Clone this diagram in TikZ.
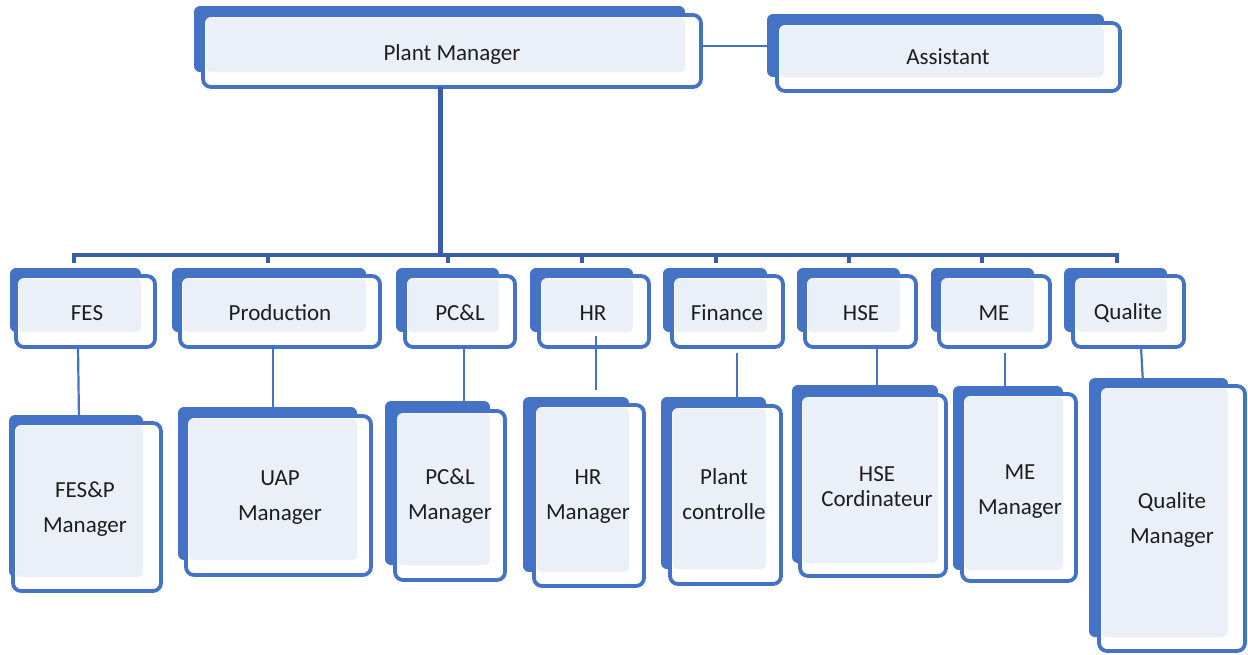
\documentclass[tikz,border=0pt]{standalone}
\usepackage{fontspec}
\setmainfont{Carlito}
\usetikzlibrary{fit}

\definecolor{boxblue}{RGB}{68,114,196}
\definecolor{trunkblue}{RGB}{58,94,166}
\definecolor{paleblue}{RGB}{234,239,248}
\definecolor{textdark}{RGB}{30,30,30}

\tikzset{
  frontbox/.style={draw=boxblue, line width=3.8pt, fill=white, rounded corners=8pt,
                   inner sep=0pt, outer sep=0pt},
  lbl/.style={font=\fontsize{23}{35}\selectfont, text=textdark, align=center, inner sep=0pt},
  tightlbl/.style={lbl, font=\fontsize{23}{25}\selectfont},
  trunk/.style={draw=trunkblue, line width=5pt},
  bus/.style={draw=trunkblue, line width=4pt},
  link/.style={draw=boxblue, line width=2.2pt},
}

% #1 name, #2-#5 back plate (x1,y1,x2,y2), #6-#9 front frame (x1,y1,x2,y2)
\newcommand\orgbox[9]{%
  \fill[boxblue, rounded corners=6pt] (#2,#3) rectangle (#4,#5);
  \node[frontbox, fit={(#6,#7) (#8,#9)}] (#1) {};
  \fill[paleblue, rounded corners=5pt] ([shift={(2.5,2.5)}]#1.north west) rectangle (#4,#5);
}

\begin{document}
\begin{tikzpicture}[x=1pt, y=-1pt]
\useasboundingbox (0,0) rectangle (1248,654);

% junction points of the distribution bus
\coordinate (busL) at (72,255);
\coordinate (busR) at (1119,255);
\coordinate (hub)  at (440,255);
\coordinate (dFES)  at (74,263);
\coordinate (dProd) at (268,263);
\coordinate (dPCL)  at (448,263);
\coordinate (dHR)   at (582,263);
\coordinate (dFin)  at (716,263);
\coordinate (dHSE)  at (849,263);
\coordinate (dME)   at (982,263);
\coordinate (dQual) at (1117,263);

% ---------- top level ----------
\orgbox{pm}{194}{6}{685}{72}{203}{15}{701}{87}
\node[lbl] (pm-t) at (452,54) {Plant Manager};

% ---------- connectors (drawn beneath the lower boxes) ----------
\draw[trunk] (hub |- pm.south) -- (hub);
\draw[bus] (busL) -- (busR);
\foreach \d in {dFES,dProd,dPCL,dHR,dFin,dHSE,dME,dQual}
  \draw[bus] (\d |- busL) -- (\d);

% ---------- assistant ----------
\orgbox{asst}{767}{14}{1104}{77}{777}{23}{1120}{91}
\node[lbl] (asst-t) at (948,57) {Assistant};
\coordinate (pmR) at ([yshift=5]pm.east);
\path (pmR -| asst.west) coordinate (asL);
\draw[link] (pmR) -- ([xshift=-9]asL);

% ---------- departments ----------
\orgbox{fes}{10}{268}{141}{332}{16}{276}{155}{347}
\orgbox{prod}{172}{268}{366}{332}{180}{276}{380}{347}
\orgbox{pcl}{396}{268}{499}{332}{405}{276}{515}{347}
\orgbox{hr}{530}{268}{633}{332}{539}{276}{649}{347}
\orgbox{fin}{663}{268}{767}{332}{672}{276}{783}{347}
\orgbox{hse}{797}{268}{900}{332}{805}{276}{916}{347}
\orgbox{me}{931}{268}{1034}{332}{939}{276}{1050}{347}
\orgbox{qual}{1064}{268}{1167}{332}{1073}{276}{1184}{347}

\node[lbl] (fes-t)  at (87,313)   {FES};
\node[lbl] (prod-t) at (280,313)  {Production};
\node[lbl] (pcl-t)  at (460,313)  {PC\&L};
\node[lbl] (hr-t)   at (593,313)  {HR};
\node[lbl] (fin-t)  at (727,313)  {Finance};
\node[lbl] (hse-t)  at (861,313)  {HSE};
\node[lbl] (me-t)   at (994,313)  {ME};
\node[lbl] (qual-t) at (1128,313) {Qualite};

% ---------- department to manager links ----------
\coordinate (eFESP) at (79,420);
\coordinate (eUAP)  at (273,412);
\coordinate (ePCLM) at (464,406);
\coordinate (eHRM)  at (596,390);
\coordinate (ePC)   at (737,402);
\coordinate (eHSEC) at (877,390);
\coordinate (eMEM)  at (1005,391);
\coordinate (eQM)   at (1143,383);
\draw[link] ([xshift=-7.5]fes.south) -- (eFESP);
\draw[link] ([xshift=-7]prod.south) -- (eUAP);
\draw[link] ([xshift=4]pcl.south) -- (ePCLM);
\draw[link] (eHRM |- hr.south) ++(0,-11) -- (eHRM);
\draw[link] ([xshift=9.5]fin.south) ++(0,6) -- (ePC);
\draw[link] ([xshift=16.5]hse.south) -- (eHSEC);
\draw[link] ([xshift=10.5]me.south) ++(0,6) -- (eMEM);
\draw[link] ([xshift=12.5]qual.south) -- (eQM);

% ---------- managers ----------
\orgbox{fesp}{9}{415}{143}{577}{13}{423}{161}{591}
\orgbox{uap}{178}{407}{357}{560}{186}{416}{371}{575}
\orgbox{pclm}{385}{401}{490}{565}{395}{411}{505}{580}
\orgbox{hrm}{523}{397}{629}{572}{534}{405}{644}{586}
\orgbox{pc}{661}{397}{766}{569}{670}{406}{781}{584}
\orgbox{hsec}{792}{385}{938}{563}{800}{395}{946}{576}
\orgbox{mem}{953}{386}{1063}{570}{962}{394}{1076}{581}
\orgbox{qm}{1089}{378}{1228}{637}{1099}{386}{1245}{651}

\node[lbl] (fesp-t) at (85,509)  {FES\&P\\Manager};
\node[lbl] (uap-t)  at (280,498) {UAP\\Manager};
\node[lbl] (pclm-t) at (450,496) {PC\&L\\Manager};
\node[lbl] (hrm-t)  at (588,497) {HR\\Manager};
\node[lbl] (pc-t)   at (724,494) {Plant\\controlle};
\node[tightlbl] (hsec-t) at (877,487) {HSE\\Cordinateur};
\node[lbl] (mem-t)  at (1020,492) {ME\\Manager};
\node[lbl] (qm-t)   at (1172,520) {Qualite\\Manager};
\end{tikzpicture}
\end{document}
